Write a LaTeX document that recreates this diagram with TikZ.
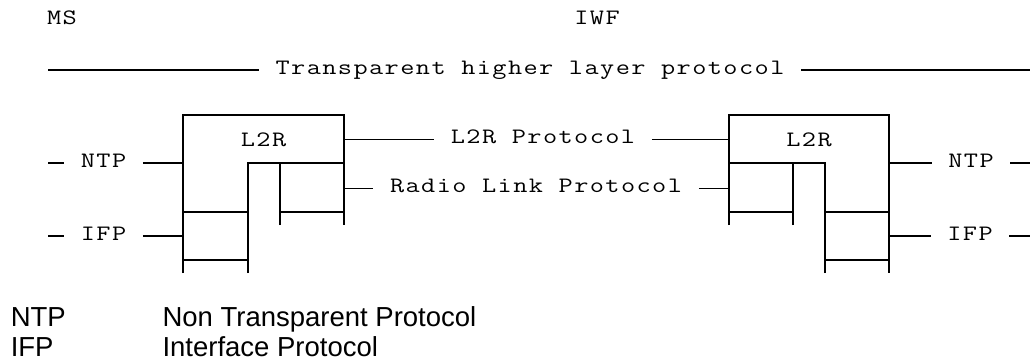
\documentclass[tikz,border=0pt]{standalone}
\usepackage{fontspec}
\newfontfamily\stackfont{Latin Modern Mono}[FakeStretch=1.25, LetterSpace=6.5]
\newfontfamily\keyfont{Liberation Sans}

\begin{document}
\begin{tikzpicture}[x=1pt, y=-1pt, line width=1.6pt,
    proto/.style={font=\stackfont\fontsize{22}{24}\selectfont, inner xsep=16pt, inner ysep=0pt, text height=9pt, text depth=0pt},
    key/.style={font=\keyfont\fontsize{27.5}{30}\selectfont, inner sep=0pt, anchor=base west, text depth=0pt}]

    \useasboundingbox (0, 0) rectangle (1032, 360);

    % stations
    \node[proto] at (62, 20) (ms) {MS};
    \node[proto] at (597, 20) (iwf) {IWF};

    % end to end
    \node[proto] at (530, 70) (thl) {Transparent higher layer protocol};
    \coordinate (thlA) at (48, 70);
    \coordinate (thlB) at (1030, 70);
    \draw (thlA) -- (thl.west);
    \draw (thl.east) -- (thlB);

    % box edges
    \coordinate (msL) at (183, 0);
    \coordinate (msR) at (344, 0);
    \coordinate (iwfL) at (729, 0);
    \coordinate (iwfR) at (889, 0);

    % MS stack
    \draw (183, 273) -- (183, 115) -- (344, 115) -- (344, 225);
    \draw (248, 273) -- (248, 163) -- (344, 163);
    \draw (280, 225) -- (280, 163);
    \draw (183, 212) -- (248, 212);
    \draw (280, 212) -- (344, 212);
    \draw (183, 260) -- (248, 260);
    \node[proto] at (263.5, 142) (l2rMS) {L2R};

    % IWF stack
    \draw (729, 225) -- (729, 115) -- (889, 115) -- (889, 273);
    \draw (825, 273) -- (825, 163) -- (729, 163);
    \draw (793, 225) -- (793, 163);
    \draw (729, 212) -- (793, 212);
    \draw (825, 212) -- (889, 212);
    \draw (825, 260) -- (889, 260);
    \node[proto] at (809, 142) (l2rIWF) {L2R};

    % peer protocols
    \node[proto] at (543, 139.3) (l2rp) {L2R Protocol};
    \node[proto] at (536, 188.3) (rlp) {Radio Link Protocol};
    \draw (l2rp.west -| msR) -- (l2rp.west);
    \draw (l2rp.east) -- (l2rp.east -| iwfL);
    \draw (rlp.west -| msR) -- (rlp.west);
    \draw (rlp.east) -- (rlp.east -| iwfL);

    % outer interfaces
    \node[proto] at (103.5, 163) (ntpMS) {NTP};
    \node[proto] at (103.5, 236) (ifpMS) {IFP};
    \node[proto] at (971, 163) (ntpIWF) {NTP};
    \node[proto] at (970, 236) (ifpIWF) {IFP};
    \coordinate (ntpMSend) at (48, 163);
    \coordinate (ifpMSend) at (48, 236);
    \coordinate (ntpIWFend) at (1030, 163);
    \coordinate (ifpIWFend) at (1030, 236);

    \draw (ntpMSend) -- (ntpMS.west);
    \draw (ntpMS.east) -- (ntpMS.east -| msL);
    \draw (ifpMSend) -- (ifpMS.west);
    \draw (ifpMS.east) -- (ifpMS.east -| msL);
    \draw (ntpIWF.west -| iwfR) -- (ntpIWF.west);
    \draw (ntpIWF.east) -- (ntpIWFend);
    \draw (ifpIWF.west -| iwfR) -- (ifpIWF.west);
    \draw (ifpIWF.east) -- (ifpIWFend);

    % legend
    \node[key] at (10, 326.7) (keyntp) {NTP};
    \node[key] at (161.7, 326.7) (keyntptext) {Non Transparent Protocol};
    \node[key] at (10, 356) (keyifp) {IFP};
    \node[key] at (161.7, 356) (keyifptext) {Interface Protocol};

\end{tikzpicture}
\end{document}
